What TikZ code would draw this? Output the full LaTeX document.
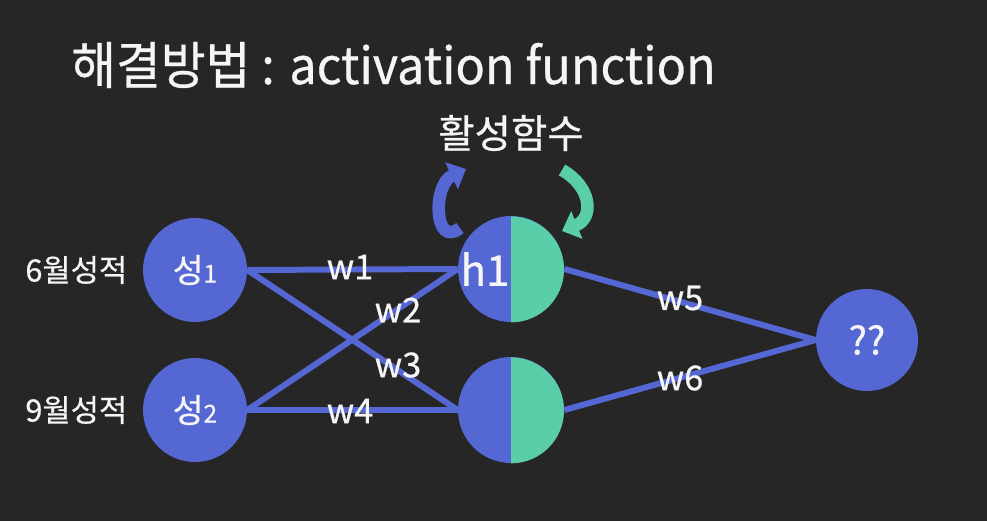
\documentclass[tikz,border=0pt]{standalone}
\usepackage{fontspec}
\setmainfont{Noto Sans CJK KR}[FakeBold=0.6]
\usetikzlibrary{arrows.meta,positioning}
\definecolor{bgdark}{RGB}{38,38,38}
\definecolor{nblue}{RGB}{84,103,211}
\definecolor{nteal}{RGB}{90,206,168}
\definecolor{txtw}{RGB}{245,245,245}

\begin{document}
\begin{tikzpicture}[x=0.02cm,y=0.02cm,text=txtw]
\tikzset{
  neuron/.style={circle,fill=nblue,minimum size=2.08cm,inner sep=0pt,
    font=\fontsize{19}{19}\selectfont},
  hid/.style={neuron,minimum size=2.12cm},
  conn/.style={draw=nblue,line width=3.4pt},
  wlbl/.style={font=\fontsize{19.5}{19.5}\selectfont,inner sep=1pt},
  inlbl/.style={font=\fontsize{17.5}{17.5}\selectfont,inner sep=0pt},
  act/.style={line width=0.25cm,-{Triangle[width=0.58cm,length=0.32cm]}}
}
\fill[bgdark] (0,0) rectangle (987,521);
\useasboundingbox (0,0) rectangle (987,521);
% title
\node[anchor=west,inner sep=0pt,xscale=0.955,font=\fontsize{29}{29}\selectfont] (title) at (71,456)
  {해결방법 : activation function};
\node[font=\fontsize{22.5}{22.5}\selectfont] (actname) at (511,388) {활성함수};
% input layer
\node[neuron] (s1) at (195,251) {성{\fontsize{14}{14}\selectfont 1}};
\node[neuron] (s2) at (195,111) {성{\fontsize{14}{14}\selectfont 2}};
\node[inlbl,left=0.3cm of s1] (in1) {6월성적};
\node[inlbl,left=0.3cm of s2] (in2) {9월성적};
% hidden layer (half blue, half teal)
\node[hid] (h1) at (511,252) {};
\node[hid] (h2) at (511,111) {};
\fill[nteal] (h1.south) arc[start angle=-90,end angle=90,radius=1.06cm] -- cycle;
\fill[nteal] (h2.south) arc[start angle=-90,end angle=90,radius=1.06cm] -- cycle;
\node[font=\fontsize{24}{24}\selectfont,inner sep=0pt] (h1txt) at (485,252) {h1};
% output
\node[neuron,minimum size=2.04cm,font=\fontsize{22}{22}\selectfont] (out) at (867,181) {??};
% connections
\draw[conn] (s1.east) -- (h1.west);
\draw[conn] (s1.east) -- (h2.west);
\draw[conn] (s2.east) -- (h1.west);
\draw[conn] (s2.east) -- (h2.west);
\draw[conn] (h1.east) -- (out.west);
\draw[conn] (h2.east) -- (out.west);
% weights
\node[wlbl] (w1) at (350,254) {w1};
\node[wlbl] (w2) at (398,211) {w2};
\node[wlbl] (w3) at (398,156) {w3};
\node[wlbl] (w4) at (350,110) {w4};
\node[wlbl] (w5) at (680,223) {w5};
\node[wlbl] (w6) at (680,143) {w6};
% activation arrows
\coordinate (ba) at (460,293);
\coordinate (bb) at (466,352);
\coordinate (ta) at (562,351);
\coordinate (tb) at (562,290);
\draw[act,nblue] (ba) .. controls (434,272) and (432,336) .. (bb);
\draw[act,nteal] (ta) .. controls (592,334) and (594,303) .. (tb);
\end{tikzpicture}
\end{document}
